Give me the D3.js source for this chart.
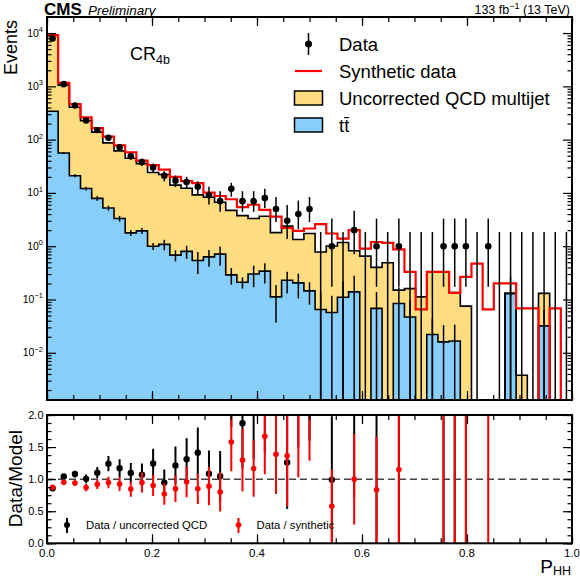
<!DOCTYPE html>
<html>
<head>
<meta charset="utf-8">
<script src="https://cdn.jsdelivr.net/npm/d3@7"></script>
<style>
  body { margin: 0; background: #fff; }
  svg { font-family: "Liberation Sans", Arial, Helvetica, sans-serif; }
</style>
</head>
<body>
<svg id="chart" width="580" height="578"></svg>
<script>
// 47 bins over P_HH in [0, 1]
var nBins = 47;

var dataCounts = [7900, 1100, 436, 228, 152, 108, 72, 49, 38, 30,
  21, 17, 16, 13, 9, 7, 12, 7, 7, 8,
  5, 3, 4, 5, 0, 1, 0, 2, 0, 1,
  0, 1, 0, 0, 0, 1, 1, 1, 0, 1,
  0, 0, 0, 0, 0, 0, 0];

// top of the stack (uncorrected QCD + ttbar)
var stackTotal = [9200, 1055, 404, 227, 138, 87, 61.5, 44.7, 35.5, 24.1,
  22.2, 14, 12.2, 9.2, 8.3, 6.7, 4.7, 3.74, 3.3, 3.65,
  1.8, 2.38, 1.34, 1.73, 0.78, 1.01, 1.17, 0.82, 0.65, 0.4,
  0.49, 0.15, 0.16, 0.112, 0.33, 0.33, 0.135, 0.075, 0, 0,
  0, 0.13, 0.0038, 0, 0.13, 0, 0];

var synthetic = [9060, 1158, 464, 262, 165, 114, 78, 58, 40.2, 33.3,
  27.3, 20, 16.7, 15.3, 10.1, 8.75, 7.6, 5.4, 6.0, 4.8,
  3.6, 2.2, 1.94, 2.15, 2.6, 1.73, 1.39, 2.0, 0.9, 1.2,
  1.15, 0.87, 0.33, 0.065, 0.33, 0.33, 0.133, 0.266, 0.47, 0.065,
  0.2, 0.2, 0.068, 0.068, 0, 0.068, 0];

var ttbar = [340, 56, 21, 12.1, 7.9, 5.2, 3.3, 1.78, 1.94, 1.0,
  1.08, 0.68, 0.8, 0.54, 0.63, 0.71, 0.29, 0.21, 0.30, 0.34,
  0.112, 0.23, 0.205, 0.145, 0.065, 0.057, 0.11, 0.139, 0, 0.068,
  0, 0.084, 0.047, 0, 0.022, 0.016, 0.0166, 0, 0, 0,
  0, 0.13, 0, 0, 0.032, 0, 0];

var ttbarErr = [7, 2.2, 1.3, 1.0, 0.8, 0.55, 0.4, 0.23, 0.25, 0.15,
  0.24, 0.16, 0.22, 0.24, 0.22, 0.28, 0.1, 0.05, 0.13, 0.14,
  0.075, 0.1, 0.1, 0.065, 0.07, 0.06, 0.11, 0.14, 0, 0.07,
  0, 0.085, 0.05, 0, 0.022, 0.017, 0.017, 0, 0, 0,
  0, 0.13, 0, 0, 0.032, 0, 0];

// Garwood 68% intervals for small counts
var garwoodLo = [0, 0.173, 0.708, 1.367, 2.086, 2.840, 3.620, 4.419, 5.232, 6.057, 6.891];
var garwoodHi = [1.841, 3.300, 4.638, 5.918, 7.163, 8.382, 9.584, 10.77, 11.95, 13.11, 14.27];

var xTickLabels = ["0.0", "0.2", "0.4", "0.6", "0.8", "1.0"];
var xTickValues = [0, 0.2, 0.4, 0.6, 0.8, 1.0];
var yPowers = [-2, -1, 0, 1, 2, 3, 4];
var ratioTickValues = [0, 0.5, 1.0, 1.5, 2.0];
var ratioTickLabels = ["0.0", "0.5", "1.0", "1.5", "2.0"];

var legendLabels = ["Data", "Synthetic data", "Uncorrected QCD multijet", "t"];
var yellow = "#ffdd80", blue = "#87cefa";

var svg = d3.select("#chart");

var x = d3.scaleLinear().domain([0, 1]).range([47, 572]);
var y = d3.scaleLog().domain([1.3e-3, 2e4]).range([400, 17]);
var yr = d3.scaleLinear().domain([0, 2]).range([543.3, 415]);
var binW = 1 / nBins;

function yv(v) { return v > 0 ? y(v) : 430; }
function yrv(v) { return v > 0 ? yr(v) : 560; }
function center(i) { return x((i + 0.5) * binW); }

var defs = svg.append("defs");
defs.append("clipPath").attr("id", "clipTop").append("rect")
  .attr("x", 47).attr("y", 17).attr("width", 525).attr("height", 383);
defs.append("clipPath").attr("id", "clipBot").append("rect")
  .attr("x", 47).attr("y", 415).attr("width", 525).attr("height", 128.3);

function stepPoints(vals) {
  var p = vals.map(function(v, i) { return [i * binW, v]; });
  p.push([1, vals[vals.length - 1]]);
  return p;
}

var area = d3.area().curve(d3.curveStepAfter)
  .x(function(d) { return x(d[0]); })
  .y0(400)
  .y1(function(d) { return yv(d[1]); });

var line = d3.line().curve(d3.curveStepAfter)
  .x(function(d) { return x(d[0]); })
  .y(function(d) { return yv(d[1]); });

// ---------- upper panel ----------
var upper = svg.append("g").attr("clip-path", "url(#clipTop)");

upper.append("path").datum(stepPoints(stackTotal)).attr("d", area).attr("fill", yellow);
upper.append("path").datum(stepPoints(ttbar)).attr("d", area).attr("fill", blue);
upper.append("path").datum(stepPoints(stackTotal)).attr("d", line)
  .attr("fill", "none").attr("stroke", "black").attr("stroke-width", 1.6);
upper.append("path").datum(stepPoints(ttbar)).attr("d", line)
  .attr("fill", "none").attr("stroke", "black").attr("stroke-width", 1.6);

// ttbar stat errors
ttbar.forEach(function(v, i) {
  if (v <= 0 || ttbarErr[i] <= 0) return;
  upper.append("line")
    .attr("x1", center(i)).attr("x2", center(i))
    .attr("y1", yv(v - ttbarErr[i])).attr("y2", y(v + ttbarErr[i]))
    .attr("stroke", "black").attr("stroke-width", 1.5);
});

upper.append("path").datum(stepPoints(synthetic)).attr("d", line)
  .attr("fill", "none").attr("stroke", "#ff0000").attr("stroke-width", 2.2);

// data
dataCounts.forEach(function(n, i) {
  var lo, hi;
  if (n <= 10) { lo = garwoodLo[n]; hi = garwoodHi[n]; }
  else { lo = n - Math.sqrt(n); hi = n + Math.sqrt(n); }
  upper.append("line")
    .attr("x1", center(i)).attr("x2", center(i))
    .attr("y1", yv(lo)).attr("y2", y(hi))
    .attr("stroke", "black").attr("stroke-width", 1.5);
  if (n > 0) {
    upper.append("circle").attr("cx", center(i)).attr("cy", y(n)).attr("r", 3.3).attr("fill", "black");
  }
});

// ---------- ratio panel ----------
var lower = svg.append("g").attr("clip-path", "url(#clipBot)");

lower.append("line").attr("x1", 47).attr("x2", 572).attr("y1", yr(1)).attr("y2", yr(1))
  .attr("stroke", "#444").attr("stroke-width", 1.5).attr("stroke-dasharray", "7,4");

function drawRatio(denom, color, r) {
  dataCounts.forEach(function(n, i) {
    if (n <= 0 || denom[i] <= 0) return;
    var q = n / denom[i], e = q / Math.sqrt(n);
    lower.append("line")
      .attr("x1", center(i)).attr("x2", center(i))
      .attr("y1", yrv(q - e)).attr("y2", yr(q + e))
      .attr("stroke", color).attr("stroke-width", 2);
    lower.append("circle").attr("cx", center(i)).attr("cy", yr(q)).attr("r", r).attr("fill", color);
  });
}
drawRatio(stackTotal, "black", 3.2);
drawRatio(synthetic, "#ff0000", 2.8);

// ---------- axes ----------
function ticksGroup(axis, transform) {
  svg.append("g").attr("transform", transform).call(axis)
    .call(function(g) {
      g.select(".domain").remove();
      g.selectAll("line").attr("stroke", "black").attr("stroke-width", 1.2);
      g.selectAll("text").remove();
    });
}

var logMinor = [];
for (var p = -3; p <= 4; p++) {
  for (var k = 2; k <= 9; k++) {
    var v = k * Math.pow(10, p);
    if (v > 1.3e-3 && v < 2e4) logMinor.push(v);
  }
}
var logMajor = yPowers.map(function(p) { return Math.pow(10, p); });

var xMinor = d3.range(0, 21).map(function(i) { return i * 0.05; });

// upper panel ticks
ticksGroup(d3.axisRight(y).tickValues(logMajor).tickSize(9), "translate(47,0)");
ticksGroup(d3.axisRight(y).tickValues(logMinor).tickSize(4.5), "translate(47,0)");
ticksGroup(d3.axisLeft(y).tickValues(logMajor).tickSize(9), "translate(572,0)");
ticksGroup(d3.axisLeft(y).tickValues(logMinor).tickSize(4.5), "translate(572,0)");
ticksGroup(d3.axisTop(x).tickValues(xTickValues).tickSize(9), "translate(0,400)");
ticksGroup(d3.axisTop(x).tickValues(xMinor).tickSize(5), "translate(0,400)");
ticksGroup(d3.axisBottom(x).tickValues(xTickValues).tickSize(9), "translate(0,17)");
ticksGroup(d3.axisBottom(x).tickValues(xMinor).tickSize(5), "translate(0,17)");

// ratio ticks
var rMinor = d3.range(0, 17).map(function(i) { return i * 0.125; });
ticksGroup(d3.axisRight(yr).tickValues(ratioTickValues).tickSize(9), "translate(47,0)");
ticksGroup(d3.axisRight(yr).tickValues(rMinor).tickSize(4.5), "translate(47,0)");
ticksGroup(d3.axisLeft(yr).tickValues(ratioTickValues).tickSize(9), "translate(572,0)");
ticksGroup(d3.axisLeft(yr).tickValues(rMinor).tickSize(4.5), "translate(572,0)");
ticksGroup(d3.axisTop(x).tickValues(xTickValues).tickSize(9), "translate(0,543.3)");
ticksGroup(d3.axisTop(x).tickValues(xMinor).tickSize(5), "translate(0,543.3)");
ticksGroup(d3.axisBottom(x).tickValues(xTickValues).tickSize(9), "translate(0,415)");
ticksGroup(d3.axisBottom(x).tickValues(xMinor).tickSize(5), "translate(0,415)");

// frames
svg.append("rect").attr("x", 47).attr("y", 17).attr("width", 525).attr("height", 383)
  .attr("fill", "none").attr("stroke", "black").attr("stroke-width", 2);
svg.append("rect").attr("x", 47).attr("y", 415).attr("width", 525).attr("height", 128.3)
  .attr("fill", "none").attr("stroke", "black").attr("stroke-width", 2);

// y labels (upper, 10^n)
yPowers.forEach(function(p) {
  var t = svg.append("text").attr("x", 43).attr("y", y(Math.pow(10, p)) + 3.5)
    .attr("text-anchor", "end").attr("font-size", 10.5);
  t.append("tspan").text("10");
  t.append("tspan").attr("dy", -4.5).attr("font-size", 7.5).text(p < 0 ? "\u2212" + (-p) : String(p));
});

// ratio y labels
ratioTickValues.forEach(function(v, i) {
  svg.append("text").attr("x", 43.5).attr("y", yr(v) + 4)
    .attr("text-anchor", "end").attr("font-size", 11).text(ratioTickLabels[i]);
});

// x labels
xTickValues.forEach(function(v, i) {
  svg.append("text").attr("x", x(v)).attr("y", 557)
    .attr("text-anchor", "middle").attr("font-size", 11.5).text(xTickLabels[i]);
});

// titles
svg.append("text").attr("transform", "translate(17,20) rotate(-90)")
  .attr("text-anchor", "end").attr("font-size", 18).text("Events");
svg.append("text").attr("transform", "translate(21.5,430) rotate(-90)")
  .attr("text-anchor", "end").attr("font-size", 19).text("Data/Model");

var px = svg.append("text").attr("x", 571).attr("y", 572.5).attr("text-anchor", "end").attr("font-size", 19);
px.append("tspan").text("P");
px.append("tspan").attr("dy", 2.5).attr("font-size", 12.5).text("HH");

svg.append("text").attr("x", 44).attr("y", 15).attr("font-size", 17).attr("font-weight", "bold").text("CMS");
svg.append("text").attr("x", 88).attr("y", 14.5).attr("font-size", 13.5).attr("font-style", "italic").text("Preliminary");

var lumi = svg.append("text").attr("x", 570).attr("y", 13.5).attr("text-anchor", "end").attr("font-size", 12.5);
lumi.append("tspan").text("133 fb");
lumi.append("tspan").attr("dy", -5).attr("font-size", 9).text("\u22121");
lumi.append("tspan").attr("dy", 5).text(" (13 TeV)");

var cr = svg.append("text").attr("x", 130).attr("y", 60).attr("font-size", 18);
cr.append("tspan").text("CR");
cr.append("tspan").attr("dy", 4).attr("font-size", 12.5).text("4b");

// ---------- legend ----------
var lg = svg.append("g").attr("font-size", 18.5);
var rowY = [44, 71, 98, 125];
lg.append("line").attr("x1", 308.5).attr("x2", 308.5).attr("y1", rowY[0] - 11).attr("y2", rowY[0] + 11)
  .attr("stroke", "black").attr("stroke-width", 1.5);
lg.append("circle").attr("cx", 308.5).attr("cy", rowY[0]).attr("r", 3.5).attr("fill", "black");
lg.append("line").attr("x1", 295).attr("x2", 322).attr("y1", rowY[1]).attr("y2", rowY[1])
  .attr("stroke", "#ff0000").attr("stroke-width", 2.2);
lg.append("rect").attr("x", 294.5).attr("y", rowY[2] - 7).attr("width", 28).attr("height", 14)
  .attr("fill", yellow).attr("stroke", "black").attr("stroke-width", 1.5);
lg.append("rect").attr("x", 294.5).attr("y", rowY[3] - 7).attr("width", 28).attr("height", 14)
  .attr("fill", blue).attr("stroke", "black").attr("stroke-width", 1.5);
legendLabels.forEach(function(s, i) {
  var t = lg.append("text").attr("x", 339).attr("y", rowY[i] + 6.5).text(s);
  if (i === 3) t.append("tspan").text("t\u0304");
});

// ratio legend
var rl = svg.append("g").attr("font-size", 11.3);
rl.append("line").attr("x1", 67).attr("x2", 67).attr("y1", 518).attr("y2", 533).attr("stroke", "black").attr("stroke-width", 2);
rl.append("circle").attr("cx", 67).attr("cy", 525).attr("r", 3).attr("fill", "black");
rl.append("text").attr("x", 86).attr("y", 529).text("Data / uncorrected QCD");
rl.append("line").attr("x1", 238.5).attr("x2", 238.5).attr("y1", 518).attr("y2", 533).attr("stroke", "#ff0000").attr("stroke-width", 2);
rl.append("circle").attr("cx", 238.5).attr("cy", 525).attr("r", 2.8).attr("fill", "#ff0000");
rl.append("text").attr("x", 256.5).attr("y", 529).text("Data / synthetic");
</script>
</body>
</html>
